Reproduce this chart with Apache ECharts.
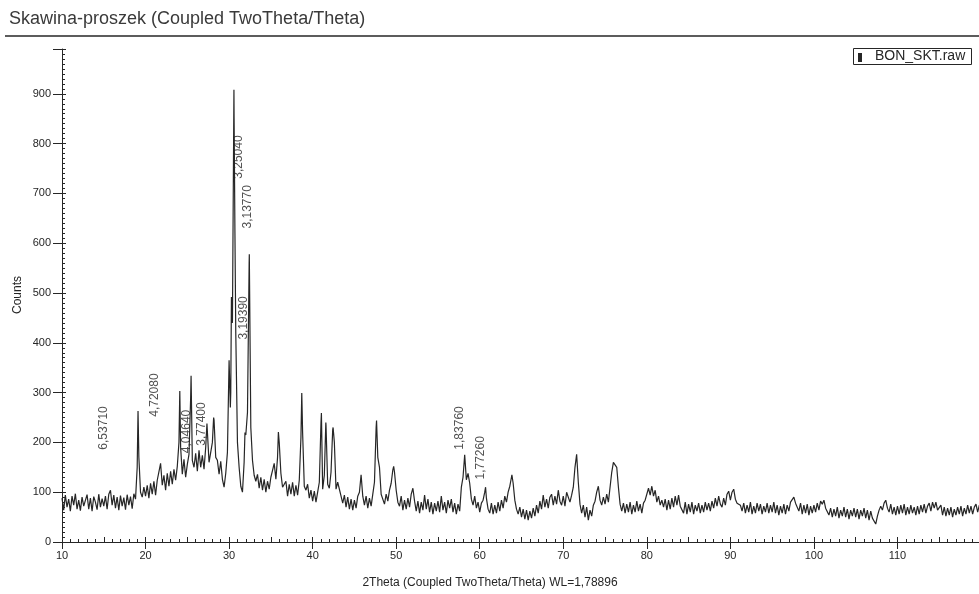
<!DOCTYPE html>
<html><head><meta charset="utf-8">
<script src="https://cdn.jsdelivr.net/npm/echarts@6.0.0/dist/echarts.min.js"></script>
<style>html,body{margin:0;padding:0;background:#fff}#c{width:979px;height:594px}</style>
</head><body><div id="c"></div>
<script>
const chartTitle = 'Skawina-proszek (Coupled TwoTheta/Theta)';
const seriesName = 'BON_SKT.raw';
const xName = '2Theta (Coupled TwoTheta/Theta) WL=1,78896';
const yName = 'Counts';
const xTicks = [10, 20, 30, 40, 50, 60, 70, 80, 90, 100, 110];
const yTicks = [0, 100, 200, 300, 400, 500, 600, 700, 800, 900];

// scan: 2Theta from 10.0 in steps of 0.2 (noise band included)
const scanStart = 10, scanStep = 0.2;
const counts = [
  88,64,94,70,86, 62,92,74,97,66, 84,63,90,72,68, 95,66,88,62,91, 80,65,96,70,87,
  72,92,66,96,104, 74,94,68,90,64, 93,72,89,65,95, 74,91,67,97,86, 150,170,100,90,110,
  92,114,88,118,96, 122,94,124,120,158, 114,134,104,138,112, 142,116,146,124,152, 200,190,136,166,130,
  156,176,290,164,150, 178,142,184,150,174, 146,190,235,160,180, 200,245,170,164,136, 162,126,110,138,180,
  365,300,440,850,420, 200,150,112,100,160, 215,260,560,230,164, 134,122,136,108,130, 104,126,100,122,106,
  130,144,158,126,170, 200,138,110,106,122, 92,116,96,120,92, 114,94,124,210,220, 112,104,116,88,104,
  82,102,80,100,120, 240,106,134,235,116, 108,140,225,200,106, 120,124,92,78,94, 70,90,66,86,64,
  84,68,92,100,135, 92,74,92,68,88, 72,96,120,230,170, 150,96,92,76,96, 82,104,118,145,140,
  104,80,72,92,64, 84,66,88,70,96, 108,82,62,82,58, 80,64,94,66,86, 60,80,56,78,62,
  82,60,92,64,80, 58,84,68,86,60, 78,56,76,62,110, 130,175,125,138,118, 86,74,92,68,80,
  60,78,84,100,88, 66,58,78,56,74, 58,80,62,84,68, 92,80,100,112,130, 118,84,66,56,70,
  50,66,46,64,44, 62,48,68,52,74, 58,82,66,94,70, 86,68,90,96,74, 92,76,104,82,74,
  92,72,100,104,80, 94,110,150,176,120, 76,58,74,50,70, 44,64,52,74,82, 100,112,84,74,90,
  76,96,80,110,140, 160,164,150,110,76, 62,78,58,76,60, 80,56,74,60,82, 62,76,58,78,84,
  86,108,94,112,92, 104,80,92,74,84, 70,86,64,84,66, 88,70,92,74,94, 72,70,58,80,56,
  76,60,80,56,74, 62,78,58,74,60, 80,64,78,62,82, 68,88,72,92,76, 70,88,74,96,102,
  84,100,106,86,78, 76,74,62,78,58, 74,60,80,56,72, 58,78,62,76,56, 72,60,78,58,74,
  60,80,58,74,54, 72,58,76,56,74, 62,80,84,90,78, 76,62,78,56,74, 58,76,54,72,58,
  74,60,78,64,82, 76,84,68,70,54, 68,50,66,52,70, 48,64,52,70,50, 66,46,64,52,68,
  50,66,46,64,52, 68,48,64,44,62, 48,44,36,52,64, 72,64,78,84,68, 60,76,56,70,54,
  72,56,74,58,76, 54,70,56,74,58, 70,54,72,56,74, 60,76,58,72,78, 62,80,68,80,64,
  66,74,54,70,52, 68,54,70,50,66, 54,70,56,72,52, 68,56,74,58,72, 56,70,76,60,74,
  64
];

// sharp reflection tips between scan points: [2Theta, counts]
const peakTips = [
  [19.1,263],[24.1,303],[25.45,334],[27.35,238],[28.15,250],
  [30.05,368],[30.15,270],[30.28,492],[30.58,908],[30.7,620],
  [31.9,220],[32.42,578],[35.9,221],[38.7,299],
  [41.05,259],[41.58,240],[42.45,230],[47.65,244],[49.7,152],
  [60.7,110],[63.85,135]
];

// d-spacing annotations: [2Theta, counts (label centre), text]
const peakLabels = [
  [15.0,229,'6,53710'],[21.05,295,'4,72080'],[24.9,222,'4,04640'],[26.75,237,'3,77400'],
  [31.2,773,'3,25040'],[31.8,450,'3,19390'],[32.25,673,'3,13770'],
  [57.55,229,'1,83760'],[60.15,169,'1,77260']
];

const pattern = counts.map((c, i) => [Math.round((scanStart + i * scanStep) * 10) / 10, c])
  .concat(peakTips).sort((a, b) => a[0] - b[0]);

const ink = '#262626';
const font = '"Liberation Sans", Arial, sans-serif';
const chart = echarts.init(document.getElementById('c'), null, {renderer: 'canvas'});
chart.setOption({
  animation: false,
  backgroundColor: '#fff',
  grid: {left: 62, top: 49, width: 919, height: 493, outerBoundsMode: 'none', containLabel: false},
  xAxis: [
    {type: 'value', min: 10, max: 120, interval: 10, position: 'bottom',
     axisLine: {show: true, lineStyle: {color: ink, width: 1}},
     axisTick: {show: true, length: 7, lineStyle: {color: ink}},
     axisLabel: {fontSize: 11, color: ink, margin: 8, fontFamily: font,
       formatter: v => xTicks.includes(v) ? String(v) : ''},
     splitLine: {show: false}},
    {type: 'value', min: 10, max: 120, interval: 5, position: 'bottom',
     axisLine: {show: false},
     axisTick: {show: true, inside: true, length: 5, lineStyle: {color: ink}},
     minorTick: {show: true, splitNumber: 5, length: 3, lineStyle: {color: ink}},
     axisLabel: {show: false}, splitLine: {show: false}}
  ],
  yAxis: [
    {type: 'value', min: 0, max: 990, interval: 100, position: 'left',
     axisLine: {show: true, lineStyle: {color: ink, width: 1}},
     axisTick: {show: true, length: 9, lineStyle: {color: ink}},
     axisLabel: {fontSize: 11, color: ink, margin: 11, fontFamily: font,
       formatter: v => yTicks.includes(v) ? String(v) : ''},
     splitLine: {show: false}},
    {type: 'value', min: 0, max: 990, interval: 100, position: 'left', offset: 0,
     axisLine: {show: false},
     axisTick: {show: true, inside: true, length: 4, lineStyle: {color: ink}},
     minorTick: {show: true, splitNumber: 10, length: 3, lineStyle: {color: ink}},
     axisLabel: {show: false}, splitLine: {show: false}}
  ],
  series: [
    {type: 'line', name: seriesName, data: pattern, symbol: 'none', showSymbol: false,
     xAxisIndex: 0, yAxisIndex: 0, lineStyle: {color: ink, width: 1.2}, clip: true, z: 3},
    {type: 'scatter', xAxisIndex: 0, yAxisIndex: 0, symbolSize: 0, silent: true, z: 4,
     data: peakLabels.map(p => ({name: p[2], value: [p[0], p[1]]})),
     label: {show: true, position: 'inside', rotate: 90, formatter: '{b}',
       fontSize: 12, color: ink, fontFamily: font}}
  ],
  graphic: [
    {type: 'text', left: 9, top: 10, style: {text: chartTitle, font: '18px ' + font, fill: '#3a3a3a'}},
    {type: 'line', shape: {x1: 5, y1: 36, x2: 979, y2: 36}, style: {stroke: ink, lineWidth: 1.5}},
    {type: 'text', x: 18, y: 295, rotation: Math.PI / 2,
     style: {text: yName, font: '12px ' + font, fill: ink, textAlign: 'center', textVerticalAlign: 'middle'}},
    {type: 'text', x: 490, y: 583,
     style: {text: xName, font: '12px ' + font, fill: ink, textAlign: 'center', textVerticalAlign: 'middle'}},
    {type: 'rect', shape: {x: 853.5, y: 48.5, width: 118, height: 16}, style: {fill: 'none', stroke: ink, lineWidth: 1}},
    {type: 'rect', shape: {x: 858, y: 53, width: 4, height: 9}, style: {fill: ink}},
    {type: 'text', x: 875, y: 56.5,
     style: {text: seriesName, font: '14px ' + font, fill: ink, textAlign: 'left', textVerticalAlign: 'middle'}}
  ]
});
</script>
</body></html>
